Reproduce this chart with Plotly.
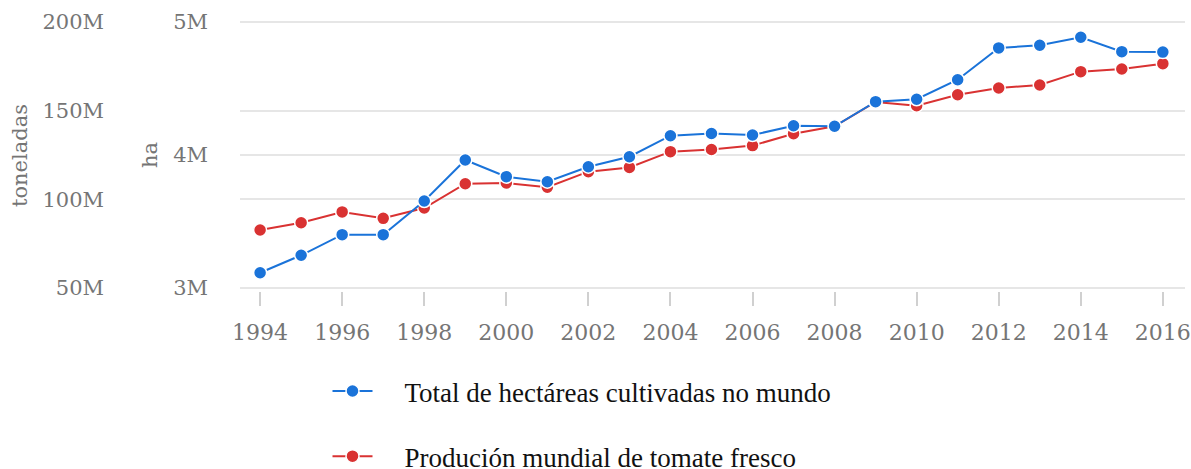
import plotly.graph_objects as go

years = list(range(1994, 2017))
ha_total = [3.115, 3.246, 3.401, 3.401, 3.654, 3.962, 3.837, 3.799, 3.912, 3.987,
            4.145, 4.162, 4.150, 4.220, 4.216, 4.401, 4.419, 4.566, 4.805, 4.825,
            4.885, 4.777, 4.774]
ha_total = [v * 1e6 for v in ha_total]
tonnes = [82.7, 86.8, 92.9, 89.3, 95.1, 108.8, 109.2, 106.8, 115.6, 118.0,
          126.9, 128.1, 130.3, 137.0, 141.2, 154.9, 152.8, 159.0, 162.8, 164.5,
          172.0, 173.5, 176.5]
tonnes = [v * 1e6 for v in tonnes]

x_ticks = list(range(1994, 2017, 2))
ton_ticks = [50e6, 100e6, 150e6, 200e6]
ton_labels = ["50M", "100M", "150M", "200M"]
ha_ticks = [3e6, 4e6, 5e6]
ha_labels = ["3M", "4M", "5M"]

BLUE = "#1a73d9"
RED = "#d93232"
GRID = "#e6e6e6"
GRAY = "#757575"
YFONT = dict(family="DejaVu Serif", size=21, color=GRAY)
XFONT = dict(family="DejaVu Serif", size=22, color=GRAY)

W, H = 1191, 469
PAD = 3  # pixels of padding so the edge gridlines are not clipped
ML, MR, MT, MB = 10, 6, 22 - PAD, 181 - PAD
plot_left = 240
pw = W - ML - MR
ph = H - MT - MB
dom0 = (plot_left - ML) / pw
eps = PAD / 266

fig = go.Figure()
fig.add_trace(go.Scatter(
    x=years, y=ha_total, yaxis="y2", mode="lines+markers",
    name="\u00a0" * 4 + "Total de hectáreas cultivadas no mundo", legendgroup="a",
    line=dict(color=BLUE, width=2),
    marker=dict(color=BLUE, size=13, line=dict(color="white", width=1.5)),
))
fig.add_trace(go.Scatter(
    x=years, y=tonnes, yaxis="y", mode="lines+markers",
    name="\u00a0" * 4 + "Produción mundial de tomate fresco", legendgroup="b",
    line=dict(color=RED, width=2),
    marker=dict(color=RED, size=13, line=dict(color="white", width=1.5)),
))

fig.update_layout(
    width=W, height=H,
    margin=dict(l=ML, r=MR, t=MT, b=MB, autoexpand=False),
    plot_bgcolor="white", paper_bgcolor="white",
    xaxis=dict(
        domain=[dom0, 1], range=[1993.51, 2016.54],
        tickmode="array", tickvals=x_ticks, ticks="outside", ticklen=11 + PAD,
        tickcolor="#d0d0d0", tickwidth=1.5, showgrid=False,
        showline=False, zeroline=False,
        tickfont=XFONT, ticklabelstandoff=8,
    ),
    yaxis=dict(
        anchor="free", position=(110 - ML) / pw, side="left",
        range=[50e6 - 150e6 * eps, 200e6 + 150e6 * eps],
        tickmode="array", tickvals=ton_ticks, ticktext=ton_labels,
        showgrid=True, gridcolor=GRID, gridwidth=1.5, zeroline=False,
        tickfont=YFONT, ticklabelstandoff=6, showline=False,
    ),
    yaxis2=dict(
        overlaying="y", anchor="x", side="left",
        range=[3e6 - 2e6 * eps, 5e6 + 2e6 * eps],
        tickmode="array", tickvals=ha_ticks, ticktext=ha_labels,
        showgrid=True, gridcolor=GRID, gridwidth=1.5, zeroline=False,
        tickfont=YFONT, ticklabelstandoff=31, showline=False,
    ),
    legend=dict(
        orientation="v", x=327.5 / W, xref="container", y=(H - 367) / H, yref="container",
        yanchor="top", xanchor="left",
        font=dict(family="Liberation Serif", size=27, color="#111111"),
        tracegroupgap=27, itemwidth=40, bgcolor="rgba(0,0,0,0)",
    ),
    showlegend=True,
)

# x-axis baseline drawn at 50M / 3M (bottom gridline position), across the x domain only
fig.add_shape(type="line", xref="x domain", yref="y", x0=0, x1=1, y0=50e6, y1=50e6,
              line=dict(color="#dcdcdc", width=1.5), layer="below")

for txt, px, py in [("toneladas", 20, 156), ("ha", 150, 155)]:
    fig.add_annotation(text=txt, textangle=-90, x=(px - ML) / pw, y=(H - MB - py) / ph,
                       xref="paper", yref="paper", xanchor="center", yanchor="middle",
                       showarrow=False, font=dict(family="DejaVu Serif", size=21, color=GRAY))

fig.write_html("out.html", config={"displayModeBar": False},
               post_script="document.body.style.margin='0';document.body.style.overflow='hidden';")
